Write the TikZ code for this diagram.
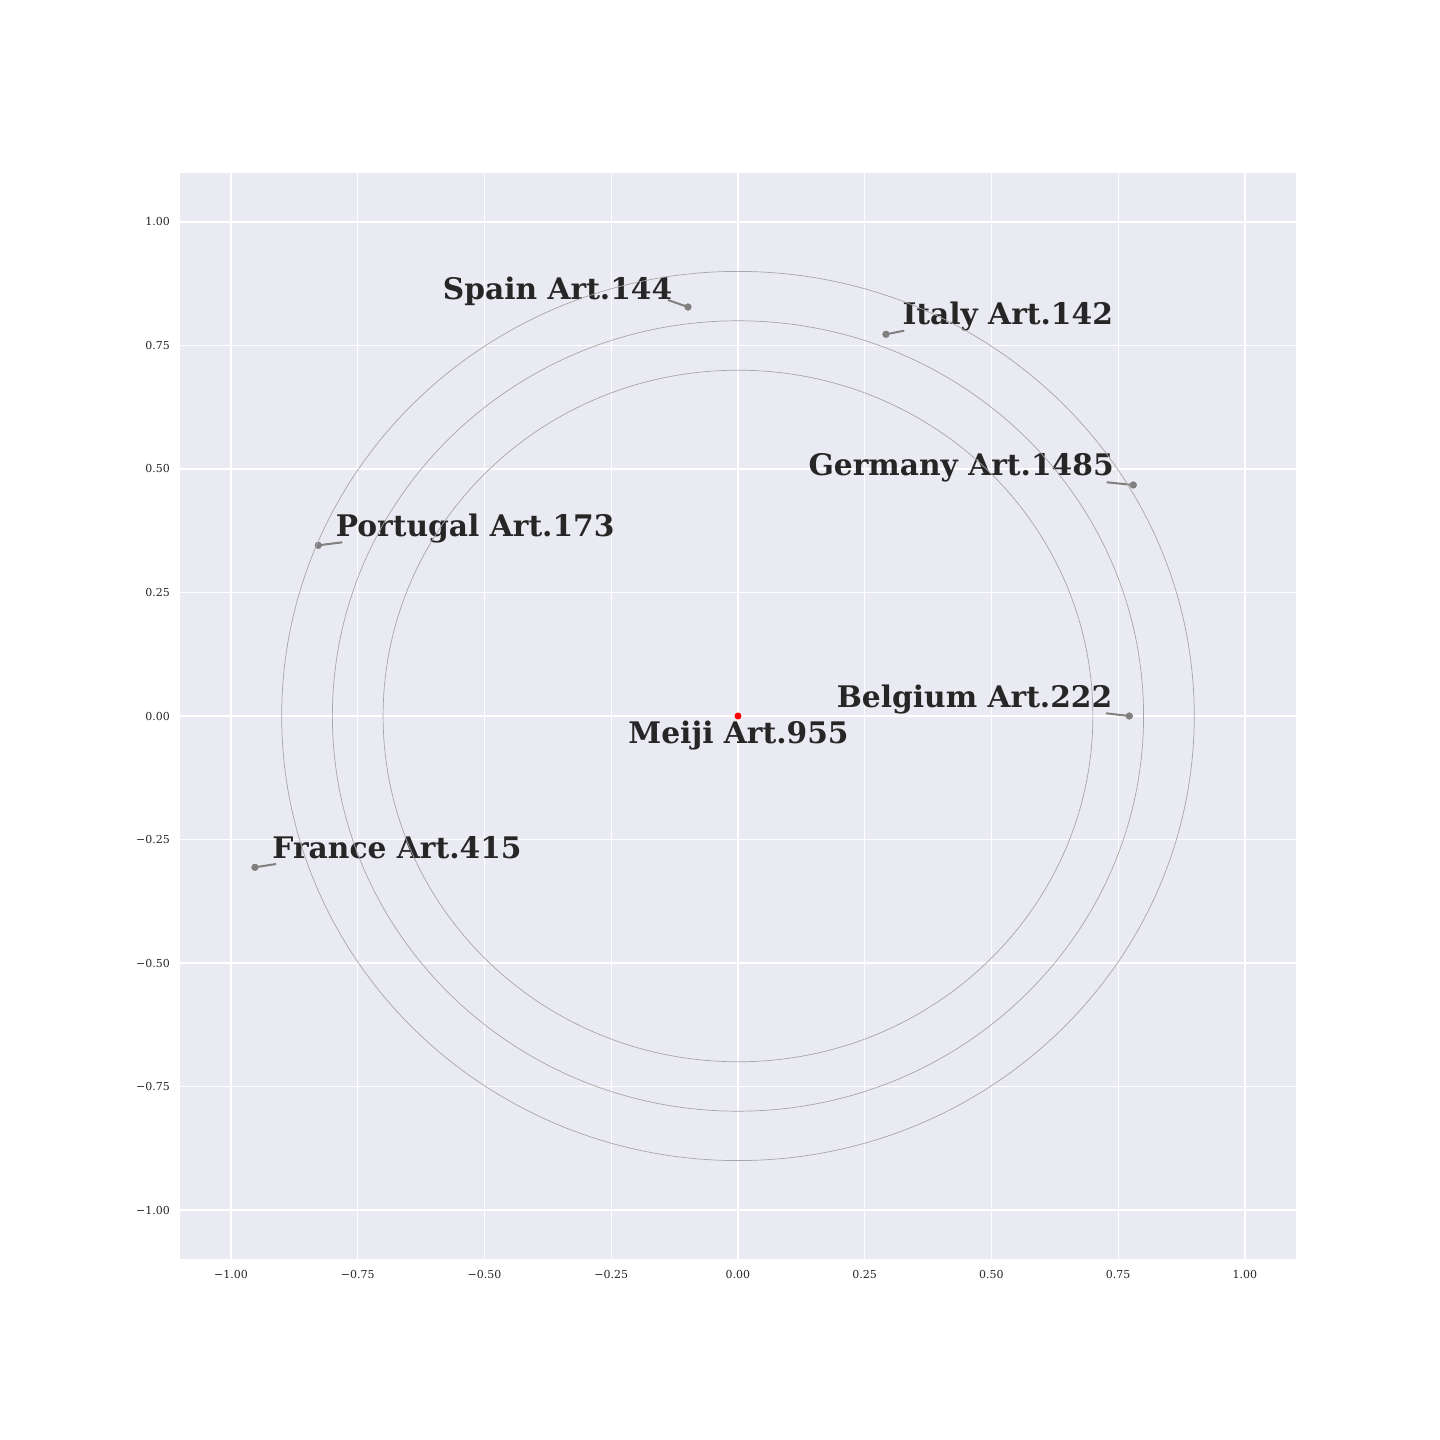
\documentclass[tikz,border=0pt]{standalone}
\usepackage{fontspec}
\setmainfont{DejaVu Serif}
\usetikzlibrary{positioning}
\definecolor{axbg}{HTML}{EAEAF2}
\definecolor{txt}{HTML}{262626}
\definecolor{ptgray}{HTML}{808080}

\begin{document}
\begin{tikzpicture}[x=507pt, y=494pt,
    country/.style={anchor=base west, inner sep=0pt, text=txt, font=\bfseries\fontsize{29.7}{29.7}\selectfont},
    pt/.style={circle, fill=ptgray, inner sep=0pt, minimum size=7pt},
    leader/.style={draw=ptgray, line width=2pt},
    ring/.style={draw=black!35, line width=0.7pt},
    gridline/.style={draw=white, line width=1.1pt},
    ticklbl/.style={text=txt, inner sep=0pt, font=\fontsize{11}{11}\selectfont}]

    % Canvas and axes area
    \useasboundingbox (-1.4556,-1.4656) rectangle (1.3846,1.4494);
    \fill[white] (-1.4556,-1.4656) rectangle (1.3846,1.4494);
    \fill[axbg] (-1.1,-1.1) rectangle (1.1,1.1);

    % Grid and tick labels
    \foreach \v/\l in {-1/−1.00, -0.75/−0.75, -0.5/−0.50, -0.25/−0.25, 0/0.00, 0.25/0.25, 0.5/0.50, 0.75/0.75, 1/1.00} {
        \draw[gridline] (\v,-1.1) -- (\v,1.1);
        \draw[gridline] (-1.1,\v) -- (1.1,\v);
        \node[ticklbl, anchor=base] at (\v,-1.1383) {\l};
        \node[ticklbl, anchor=east] at (-1.1203,\v) {\l};
    }

    % Country labels
    \node[country] (spain) at (-0.5824,0.8441) {Spain Art.144};
    \node[country] (italy) at (0.3241,0.7929) {Italy Art.142};
    \node[country] (germany) at (0.1387,0.4864) {Germany Art.1485};
    \node[country] (portugal) at (-0.7935,0.3630) {Portugal Art.173};
    \node[country] (belgium) at (0.1947,0.0176) {Belgium Art.222};
    \node[country] (france) at (-0.9185,-0.2881) {France Art.415};
    \node[country] (meiji) at (-0.2164,-0.0553) {Meiji Art.955};

    % Leader ends next to the labels
    \coordinate (spainend) at (-0.1381,0.8421);
    \coordinate (italyend) at (0.3280,0.7800);
    \coordinate (germanyend) at (0.7272,0.4731);
    \coordinate (portugalend) at (-0.7805,0.3516);
    \coordinate (belgiumend) at (0.7258,0.0055);
    \coordinate (franceend) at (-0.9112,-0.2996);

    % Points
    \node[pt] (spainpt) at (-0.0986,0.8279) {};
    \node[pt] (italypt) at (0.2919,0.7727) {};
    \node[pt] (germanypt) at (0.7797,0.4676) {};
    \node[pt] (portugalpt) at (-0.8278,0.3455) {};
    \node[pt] (belgiumpt) at (0.7718,0) {};
    \node[pt] (francept) at (-0.9527,-0.3063) {};
    \node[pt, fill=red] (meijipt) at (0,0) {};

    % Leaders
    \foreach \c in {spain,italy,germany,portugal,belgium,france} {
        \draw[leader] (\c end) -- (\c pt.center);
        \fill[ptgray] (\c pt) circle (3.5pt);
    }

    % Rings round the centre
    \foreach \r in {0.7,0.8,0.9} {
        \draw[ring] (meijipt.center) circle (\r);
    }
\end{tikzpicture}
\end{document}
